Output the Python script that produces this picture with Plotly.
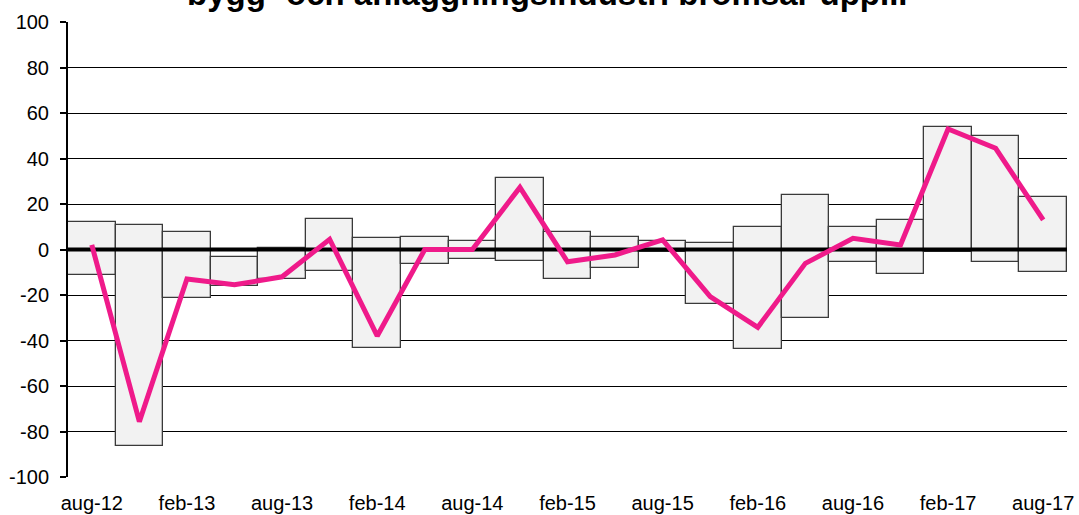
import plotly.graph_objects as go

categories = ["aug-12", "nov-12", "feb-13", "maj-13", "aug-13", "nov-13", "feb-14",
              "maj-14", "aug-14", "nov-14", "feb-15", "maj-15", "aug-15", "nov-15",
              "feb-16", "maj-16", "aug-16", "nov-16", "feb-17", "maj-17", "aug-17"]
range_low = [-11.1, -86.4, -21.3, -16.0, -13.0, -9.3, -43.4, -6.4, -4.3, -5.2, -13.0,
             -8.0, -1.0, -24.0, -43.9, -30.3, -5.5, -10.8, -1.2, -5.5, -9.9]
range_high = [12.2, 10.9, 7.8, -3.2, 0.8, 13.3, 5.2, 5.6, 3.7, 31.6, 7.8,
              5.6, 3.9, 2.9, 9.7, 24.0, 9.7, 13.0, 54.0, 49.9, 22.9]
line_values = [2.0, -75.7, -13.0, -15.5, -12.0, 4.5, -38.0, 0.0, 0.0, 27.3, -5.4,
               -2.4, 4.2, -20.7, -34.2, -6.1, 4.9, 2.0, 53.0, 44.5, 13.0]
tick_labels = categories[::2]
y_ticks = [-100, -80, -60, -40, -20, 0, 20, 40, 60, 80, 100]
y_tick_labels = [str(v) for v in y_ticks]
title_text = "bygg- och anläggningsindustri bromsar upp..."

n = len(categories)
xs = list(range(n))
FONT = "Liberation Sans, Arial, sans-serif"

fig = go.Figure()
fig.add_trace(go.Bar(
    x=xs,
    y=[h - l for h, l in zip(range_high, range_low)],
    base=range_low,
    width=1.0,
    marker=dict(color="#f2f2f2", line=dict(color="#3a3a3a", width=1.3)),
    hoverinfo="skip",
    showlegend=False,
))
# zero reference line (drawn above the boxes, below the pink line)
fig.add_trace(go.Scatter(
    x=[-0.5, n - 0.5], y=[0, 0], mode="lines",
    line=dict(color="#000000", width=4),
    hoverinfo="skip", showlegend=False, cliponaxis=False,
))
fig.add_trace(go.Scatter(
    x=xs, y=line_values, mode="lines",
    line=dict(color="#ef1a8a", width=5),
    showlegend=False,
))

fig.add_annotation(
    text="<b>" + title_text + "</b>",
    xref="paper", yref="paper", x=0.4797, y=1.0,
    xanchor="center", yanchor="middle", yshift=29,
    showarrow=False,
    font=dict(family=FONT, size=33, color="#000000"),
)

fig.update_layout(
    width=1079, height=515,
    margin=dict(l=68, r=12, t=22, b=38, autoexpand=False),
    paper_bgcolor="white", plot_bgcolor="white",
    font=dict(family=FONT, size=20, color="#000000"),
    bargap=0,
)
fig.update_xaxes(
    range=[-0.5, n - 0.5], automargin=False,
    tickmode="array", tickvals=xs[::2], ticktext=tick_labels,
    showgrid=False, zeroline=False, showline=False, ticks="",
    tickfont=dict(family=FONT, size=20, color="#000000"),
    ticklabelstandoff=12,
)
fig.update_yaxes(
    range=[-100, 100], automargin=False,
    tickmode="array", tickvals=y_ticks, ticktext=y_tick_labels,
    showgrid=True, gridcolor="#000000", gridwidth=1,
    zeroline=False,
    showline=True, linecolor="#000000", linewidth=2,
    ticks="outside", ticklen=6, tickwidth=2, tickcolor="#000000",
    tickfont=dict(family=FONT, size=20, color="#000000"),
    ticklabelstandoff=7,
)

fig.write_html(
    "out.html",
    config={"displayModeBar": False},
    post_script="document.body.style.margin='0';document.body.style.overflow='hidden';",
)
